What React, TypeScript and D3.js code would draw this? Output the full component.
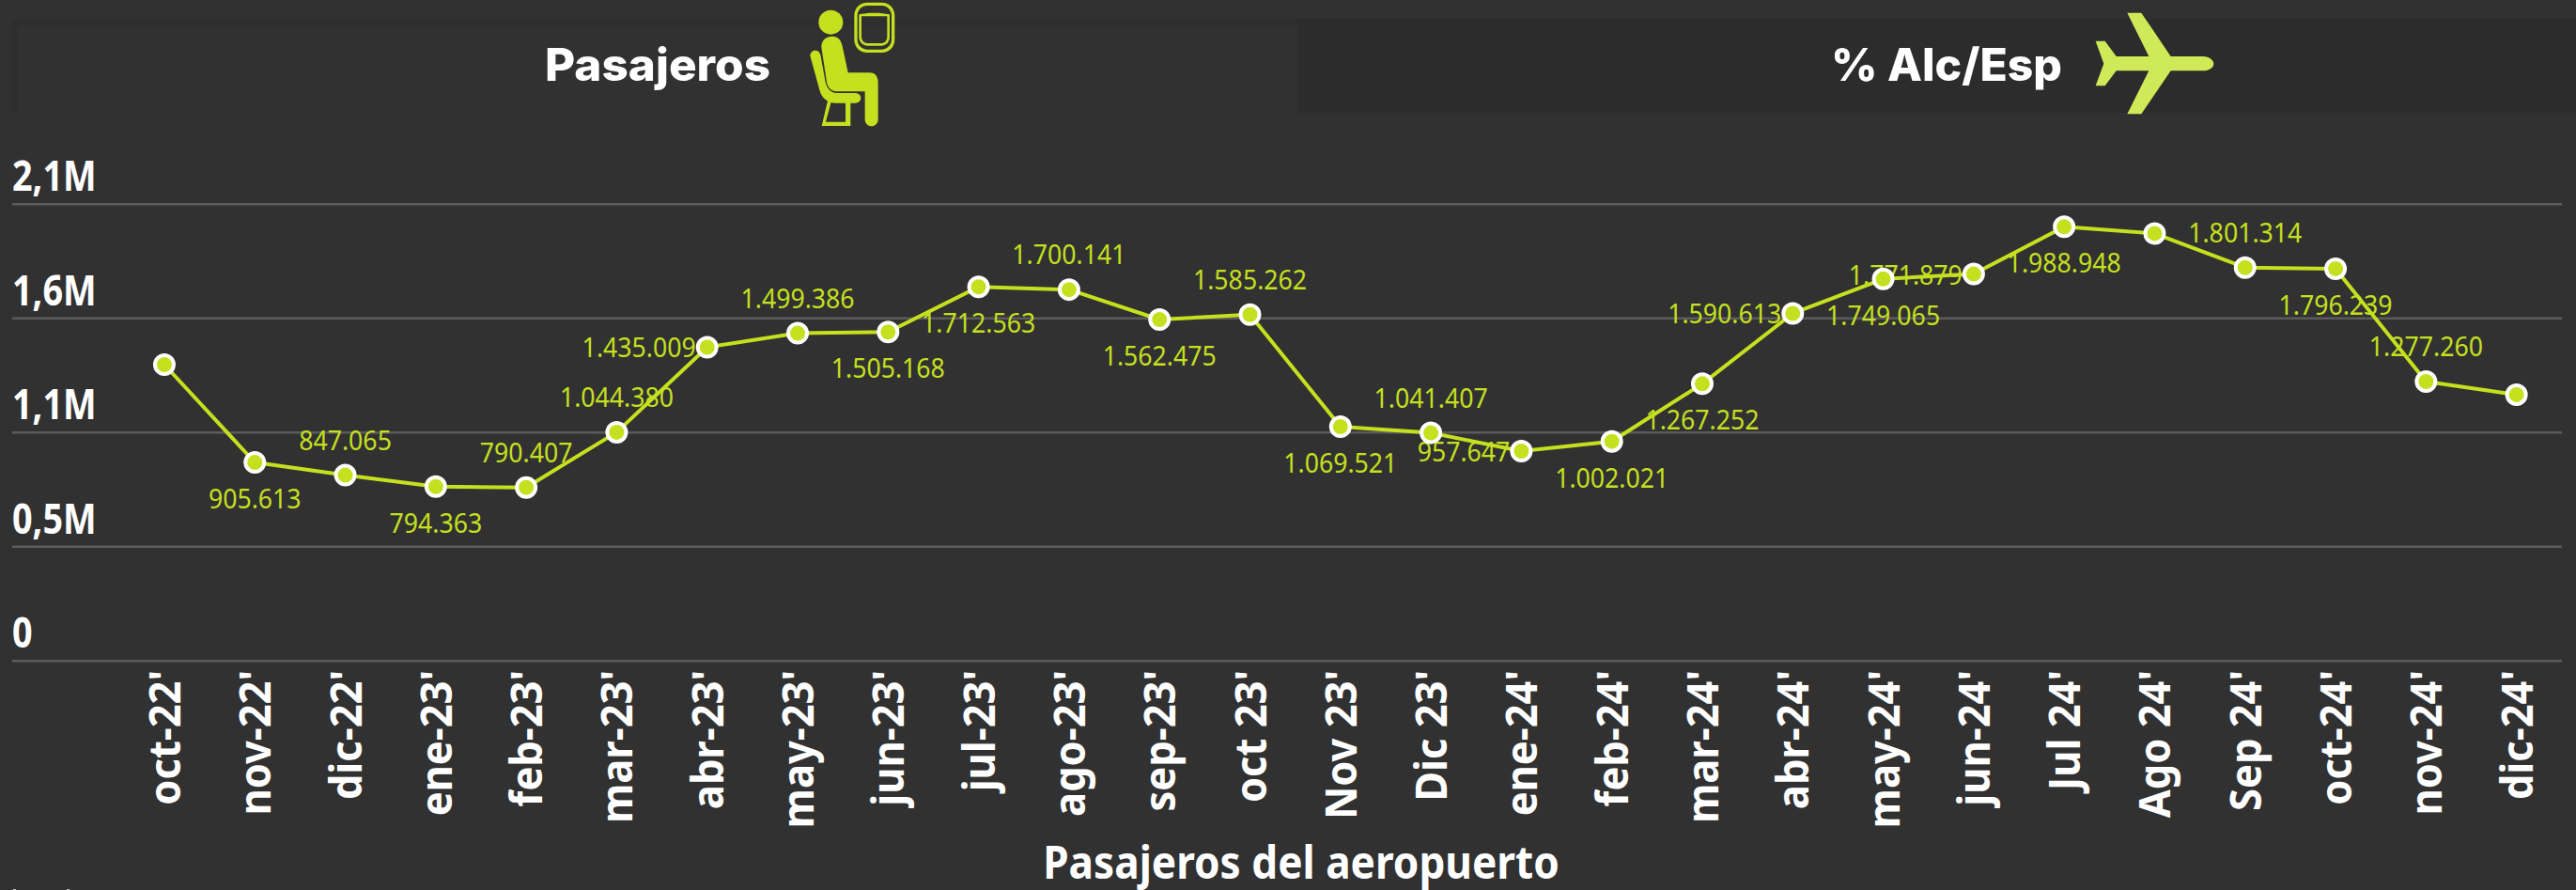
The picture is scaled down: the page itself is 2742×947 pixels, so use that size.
import React from "react";
import * as d3 from "d3";

const W = 2742, H = 947;
const categories = ["oct-22'","nov-22'","dic-22'","ene-23'","feb-23'","mar-23'","abr-23'","may-23'","jun-23'","jul-23'","ago-23'","sep-23'","oct 23'","Nov 23'","Dic 23'","ene-24'","feb-24'","mar-24'","abr-24'","may-24'","jun-24'","Jul 24'","Ago 24'","Sep 24'","oct-24'","nov-24'","dic-24'"];
const values = [1355000,905613,847065,794363,790407,1044380,1435009,1499386,1505168,1712563,1700141,1562475,1585262,1069521,1041407,957647,1002021,1267252,1590613,1749065,1771879,1988948,1958000,1801314,1796239,1277260,1217000];
const showLabel = [0,1,1,1,1,1,1,1,1,1,1,1,1,1,1,1,1,1,1,1,1,1,0,1,1,1,0];
// a = above, b = below, l = left of the marker
const labelSide = ["a","b","a","b","a","a","l","a","b","b","a","b","a","b","a","l","b","b","l","b","l","b","a","a","b","a","a"];
const yTicks = [0, 525000, 1050000, 1575000, 2100000];
const yTickLabels = ["0","0,5M","1,1M","1,6M","2,1M"];

const LIME = "#c5e01f";
const BG = "#313131";
const AXIS_FONT = "'Noto Sans', 'Open Sans', sans-serif";
const LABEL_FONT = "'Noto Sans', sans-serif";

const x = d3.scaleBand<string>().domain(categories).range([126.8, 2726.8]);
const y = d3.scaleLinear().domain([0, 2100000]).range([703.3, 217.3]);
const cx = (c: string) => (x(c) as number) + x.bandwidth() / 2;
const POINT_SHIFT = -1.7;
const line = d3.line<number>().x((_, i) => cx(categories[i])).y((v) => y(v) + POINT_SHIFT);

function fmt(v: number) {
  return String(v).replace(/\B(?=(\d{3})+$)/g, ".");
}

function SeatIcon() {
  return (
    <g transform="translate(820 0) scale(0.3333)" fill={LIME}>
      <circle cx={193} cy={71} r={39} />
      <path d="M163 150 C163 125 182 116 198 116 C216 116 226 128 230 148 L248 232 L318 232 C334 232 344 244 344 262 L344 380 C344 394 334 403 323 403 C312 403 302 394 302 380 L302 292 L212 292 C195 292 183 280 180 262 Z" />
      <path d="M127 178 C127 166 137 160 146 161 C155 162 160 170 161 180 L176 262 C180 280 192 297 212 297 L270 297 C282 297 289 304 289 313 C289 322 282 329 270 329 L210 329 C185 329 165 315 158 290 Z" />
      <path d="M184 318 L164 402 L256 402 L256 318 L240 318 L240 389 L177 389 L196 318 Z" />
      <path fillRule="evenodd" d="M310 8 L355 8 C380 8 397 26 397 50 L397 126 C397 150 380 168 355 168 L310 168 C285 168 268 150 268 126 L268 50 C268 26 285 8 310 8 Z M310 18 C292 18 278 32 278 50 L278 126 C278 144 292 158 310 158 L355 158 C373 158 387 144 387 126 L387 50 C387 32 373 18 355 18 Z" />
      <path fillRule="evenodd" d="M283 46 L318 41 L346 41 L381 46 L381 118 C381 134 370 146 355 146 L310 146 C295 146 283 134 283 118 Z M291 52 L291 116 C291 130 300 138 312 138 L353 138 C365 138 373 130 373 116 L373 52 Z" />
    </g>
  );
}

function PlaneIcon() {
  return (
    <g transform="translate(2200 0) scale(0.3333)" fill="#d0e958">
      <path d="M193 41 L238 41 L332 180 L435 180 C455 180 469 192 469 203 C469 215 455 226 435 226 L332 226 L238 364 L193 364 L262 226 L158 226 L122 274 L92 274 L118 203 L92 131 L122 131 L158 180 L262 180 Z" />
    </g>
  );
}

export default function App() {
  return (
    <div style={{ position: "absolute", left: 0, top: 0, width: W, height: H, background: BG, overflow: "hidden" }}>
      <svg width={W} height={H} style={{ display: "block" }}>
        <rect width={W} height={H} fill={BG} />
        {/* tabs */}
        <path d="M13 120 L13 26 Q13 20 19 20 L1382 20 L1382 120 Z" fill="#2e2e2e" />
        <rect x={19} y={27} width={1361} height={93} rx={3} fill="#313131" />
        <rect x={1382} y={20} width={1360} height={100} fill="#2c2c2c" />
        <text x={580} y={86} textLength={240} lengthAdjust="spacingAndGlyphs" fill="#fff" fontFamily="Inter, sans-serif" fontWeight={800} fontSize={48}>Pasajeros</text>
        <text x={1949} y={86} textLength={246} lengthAdjust="spacingAndGlyphs" fill="#fff" fontFamily="Inter, sans-serif" fontWeight={800} fontSize={48}>% Alc/Esp</text>
        <SeatIcon />
        <PlaneIcon />

        {/* grid + y labels */}
        {yTicks.map((t, i) => (
          <g key={t}>
            <line x1={13} x2={2727} y1={y(t)} y2={y(t)} stroke="#5c5c5c" strokeWidth={2.5} />
            <text transform={`translate(13 ${y(t) - 14}) scale(0.84 1)`} fill="#fff" fontFamily={AXIS_FONT} fontWeight={700} fontSize={45}>{yTickLabels[i]}</text>
          </g>
        ))}

        {/* x labels */}
        {categories.map((c) => (
          <text key={c} transform={`translate(${cx(c) + 17} 713) rotate(-90) scale(0.945 1)`} textAnchor="end" fill="#fff" fontFamily={AXIS_FONT} fontWeight={700} fontSize={46}>{c}</text>
        ))}

        {/* data labels */}
        {values.map((v, i) => {
          if (!showLabel[i]) return null;
          const side = labelSide[i];
          const px = cx(categories[i]);
          const py = y(v) + POINT_SHIFT;
          const dy = side === "a" ? -27 : side === "b" ? 49 : 11;
          return (
            <text key={i} transform={`translate(${side === "l" ? px - 12 : px} ${py + dy}) scale(0.92 1)`} textAnchor={side === "l" ? "end" : "middle"} fill={LIME} fontFamily={LABEL_FONT} fontSize={29}>{fmt(v)}</text>
          );
        })}

        <path d={line(values) as string} fill="none" stroke={LIME} strokeWidth={4} strokeLinejoin="round" />
        {values.map((v, i) => (
          <circle key={i} cx={cx(categories[i])} cy={y(v) + POINT_SHIFT} r={10} fill={LIME} stroke="#fff" strokeWidth={4} />
        ))}

        <text transform="translate(1385 935) scale(0.92 1)" textAnchor="middle" fill="#fff" fontFamily={AXIS_FONT} fontWeight={700} fontSize={48}>Pasajeros del aeropuerto</text>
        <rect x={14} y={946} width={3} height={1} fill="#bbb" />
        <rect x={71} y={946} width={3} height={1} fill="#bbb" />
      </svg>
    </div>
  );
}
